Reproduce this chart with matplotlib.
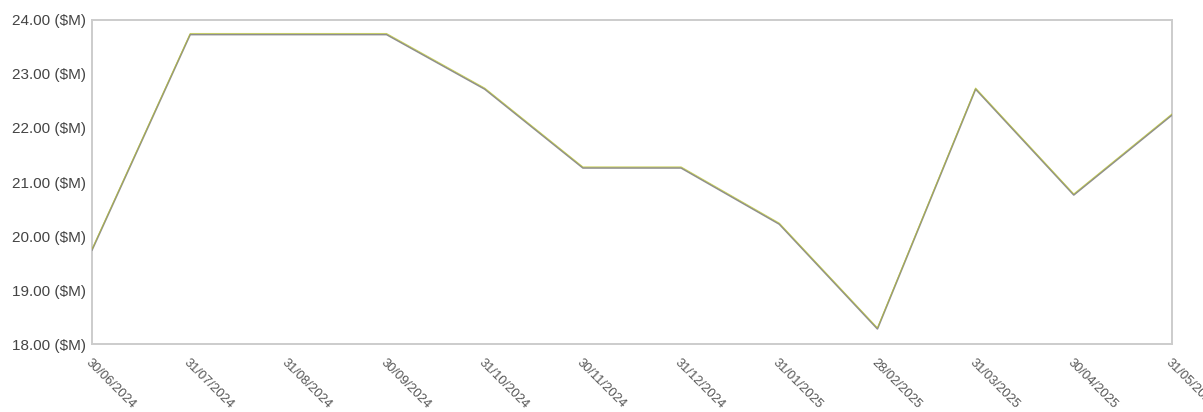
import matplotlib
matplotlib.use("Agg")
import matplotlib.pyplot as plt
import matplotlib.transforms as mtransforms

plt.rcParams['font.family'] = ['Liberation Sans', 'DejaVu Sans']

dates = ["30/06/2024", "31/07/2024", "31/08/2024", "30/09/2024", "31/10/2024",
         "30/11/2024", "31/12/2024", "31/01/2025", "28/02/2025", "31/03/2025",
         "30/04/2025", "31/05/2025"]
values = [19.74, 23.73, 23.73, 23.73, 22.72, 21.26, 21.26, 20.22, 18.28,
          22.72, 20.76, 22.24]
y_ticks = [18, 19, 20, 21, 22, 23, 24]

fig = plt.figure(figsize=(12.03, 4.12), dpi=100)
ax = fig.add_axes([0.0765, 0.165, 0.8977, 0.7865])

x = list(range(len(dates)))
# grey base line with a thin yellow-green line riding just above it
ax.plot(x, values, color="#8e8e8e", lw=1.2, solid_joinstyle="round", zorder=3)
shift = mtransforms.offset_copy(ax.transData, fig=fig, x=0, y=0.8, units="points")
ax.plot(x, values, color="#b8c22a", lw=0.7, alpha=0.7, transform=shift, zorder=4)

ax.set_xlim(0, len(dates) - 1)
ax.set_ylim(18, 24)
ax.set_yticks(y_ticks)
ax.set_yticklabels([f"{v:.2f} ($M)" for v in y_ticks], fontsize=11, color="#444444")
ax.set_xticks(x)
ax.set_xticklabels(dates, rotation=-45, ha="left", va="top", fontsize=9.3,
                   color="#555555", rotation_mode="anchor")
ax.tick_params(axis="both", length=0)
ax.tick_params(axis="y", pad=4.5)
ax.tick_params(axis="x", pad=9)

for side in ["left", "right", "top", "bottom"]:
    ax.spines[side].set_color("#cccccc")
    ax.spines[side].set_linewidth(1.4)

fig.savefig("out.png", dpi=100)
